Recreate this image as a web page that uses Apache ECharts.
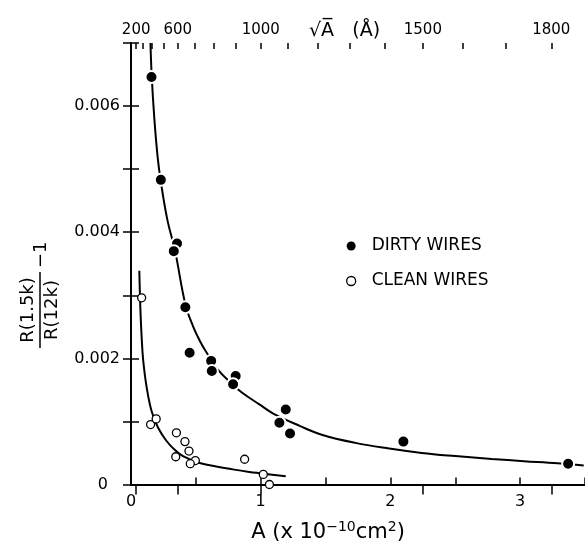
<!DOCTYPE html>
<html><head><meta charset="utf-8">
<script src="https://cdn.jsdelivr.net/npm/echarts@6/dist/echarts.min.js"></script>
<style>html,body{margin:0;padding:0;background:#fff}#c{width:585px;height:548px}</style>
</head><body><div id="c"></div>
<script>
// Measured data (A in 1e-10 cm^2, R ratio - 1)
const dirtyA = [0.158, 0.230, 0.355, 0.330, 0.419, 0.452, 0.618, 0.623, 0.807, 0.787, 1.193, 1.144, 1.226, 2.10, 3.37];
const dirtyR = [0.00646, 0.00483, 0.00382, 0.00370, 0.00281, 0.00209, 0.00196, 0.00180, 0.00172, 0.00159, 0.00119, 0.00098, 0.00081, 0.00068, 0.00033];
const cleanA = [0.082, 0.151, 0.194, 0.350, 0.416, 0.447, 0.345, 0.496, 0.457, 0.876, 1.02, 1.067];
const cleanR = [0.00296, 0.00095, 0.00104, 0.00082, 0.00068, 0.00053, 0.00044, 0.00038, 0.00033, 0.00040, 0.00016, 0.0000];
// Hand-drawn guide curves
const dirtyCurveA = [0.150, 0.160, 0.180, 0.205, 0.230, 0.280, 0.340, 0.420, 0.480, 0.530, 0.580, 0.670, 0.770, 0.860, 0.990, 1.100, 1.300, 1.470, 1.730, 1.990, 2.240, 2.500, 2.780, 3.030, 3.290, 3.490];
const dirtyCurveR = [0.00700, 0.00646, 0.00580, 0.00520, 0.00480, 0.00420, 0.00370, 0.00285, 0.00250, 0.00228, 0.00210, 0.00182, 0.00161, 0.00145, 0.00127, 0.00112, 0.00093, 0.00079, 0.00066, 0.00057, 0.00050, 0.00045, 0.000405, 0.00037, 0.000335, 0.00030];
const cleanCurveA = [0.064, 0.072, 0.082, 0.094, 0.120, 0.159, 0.209, 0.274, 0.337, 0.401, 0.529, 0.657, 0.784, 0.912, 0.989, 1.193];
const cleanCurveR = [0.00339, 0.00280, 0.00234, 0.00197, 0.00155, 0.00116, 0.00090, 0.00069, 0.00055, 0.00045, 0.00034, 0.000285, 0.00024, 0.00020, 0.00018, 0.00013];
// Axis ticks
const xLabelValues = [0, 1, 2, 3];
const yLabelValues = [0, 0.002, 0.004, 0.006];
const sqrtMinorTicks = [200, 300, 400, 500, 600, 700, 800, 900, 1000, 1100, 1200, 1300, 1400, 1500, 1600, 1700, 1800];
const sqrtLabelTicks = [200, 600, 1000, 1500, 1800];

const FONT = 'DejaVu Sans';
const zip = (a, b) => a.map((v, i) => [v, b[i]]);
const sqrtToA = s => (s / 1000) * (s / 1000);

const chart = echarts.init(document.getElementById('c'), null, {renderer: 'canvas'});
const black = '#000';
chart.setOption({
  animation: false,
  backgroundColor: '#fff',
  grid: {left: 131, top: 43, right: -3, bottom: 59, containLabel: false},
  title: {
    text: '\u221AA\u0305   (\u00C5)',
    left: 304, top: 17,
    textStyle: {fontFamily: FONT, fontSize: 19, fontWeight: 'normal', color: black}
  },
  legend: {
    orient: 'vertical', left: 341, top: 231, itemGap: 15,
    itemWidth: 9, itemHeight: 9,
    textStyle: {fontFamily: FONT, fontSize: 17, color: black, lineHeight: 20, padding: [0, 0, 0, 11]},
    data: [
      {name: 'DIRTY WIRES', icon: 'circle', itemStyle: {color: black, borderWidth: 0}},
      {name: 'CLEAN WIRES', icon: 'circle', itemStyle: {color: '#fff', borderColor: black, borderWidth: 1.3}}
    ]
  },
  xAxis: [
    {
      type: 'value', position: 'bottom', min: 0, max: 3.5, interval: 0.5,
      axisLine: {show: true, lineStyle: {color: black, width: 2}},
      axisTick: {show: true, inside: true, length: 7, lineStyle: {color: black, width: 1.5}},
      axisLabel: {customValues: xLabelValues, fontFamily: FONT, fontSize: 16, color: black, margin: 9},
      splitLine: {show: false},
      name: 'A (x 10{s|\u221210}cm{s|2})',
      nameLocation: 'middle', nameGap: 36,
      nameTextStyle: {fontFamily: FONT, fontSize: 21, color: black, padding: [0, 60, 0, 0],
        rich: {s: {fontFamily: FONT, fontSize: 14, color: black, verticalAlign: 'top', padding: [0, 0, 10, 0]}}}
    },
    {
      type: 'value', position: 'top', min: 0, max: 3.5,
      axisLine: {show: true, lineStyle: {color: black, width: 2}},
      axisTick: {show: true, inside: true, length: 10, customValues: sqrtLabelTicks.map(sqrtToA), lineStyle: {color: black, width: 1.5}},
      axisLabel: {customValues: sqrtLabelTicks.map(sqrtToA), fontFamily: FONT, fontSize: 15, color: black, margin: 5,
        formatter: v => String(Math.round(Math.sqrt(v) * 10) * 100)},
      splitLine: {show: false}
    },
    {
      type: 'value', position: 'top', min: 0, max: 3.5,
      axisLine: {show: false},
      axisTick: {show: true, inside: true, length: 6, customValues: sqrtMinorTicks.map(sqrtToA), lineStyle: {color: black, width: 1.5}},
      axisLabel: {show: false},
      splitLine: {show: false}
    }
  ],
  yAxis: [
    {
      type: 'value', position: 'left', min: 0, max: 0.007, interval: 0.001,
      axisLine: {show: true, lineStyle: {color: black, width: 2}},
      axisTick: {show: true, inside: true, length: 8, lineStyle: {color: black, width: 1.5}},
      axisLabel: {customValues: yLabelValues, fontFamily: FONT, fontSize: 16, color: black, margin: 11,
        formatter: v => v === 0 ? '{z|0}' : v.toFixed(3),
        rich: {z: {fontFamily: FONT, fontSize: 16, color: black, padding: [0, 12, 0, 0]}}},
      splitLine: {show: false}
    },
    {
      type: 'value', position: 'right', min: 0, max: 0.007, interval: 0.001,
      axisLine: {show: true, lineStyle: {color: black, width: 2}},
      axisTick: {show: true, inside: true, length: 8, lineStyle: {color: black, width: 1.5}},
      axisLabel: {show: false},
      splitLine: {show: false}
    }
  ],
  graphic: [{
    type: 'group', x: 40, y: 310, rotation: Math.PI / 2,
    children: [
      {type: 'text', x: 0, y: -3, style: {text: 'R(1.5k)', fontFamily: FONT, fontSize: 18, fill: black, align: 'center', verticalAlign: 'bottom'}},
      {type: 'line', shape: {x1: -38, y1: 0, x2: 38, y2: 0}, style: {stroke: black, lineWidth: 1.5}},
      {type: 'text', x: 0, y: 3, style: {text: 'R(12k)', fontFamily: FONT, fontSize: 18, fill: black, align: 'center', verticalAlign: 'top'}},
      {type: 'text', x: 42, y: 1, style: {text: '\u22121', fontFamily: FONT, fontSize: 18, fill: black, align: 'left', verticalAlign: 'middle'}}
    ]
  }],
  series: [
    {type: 'line', name: 'dirty fit', data: zip(dirtyCurveA, dirtyCurveR), smooth: 0.4,
      symbol: 'none', lineStyle: {color: black, width: 2}, z: 2},
    {type: 'line', name: 'clean fit', data: zip(cleanCurveA, cleanCurveR), smooth: 0.4,
      symbol: 'none', lineStyle: {color: black, width: 2}, z: 2},
    {type: 'scatter', name: 'DIRTY WIRES', data: zip(dirtyA, dirtyR), symbol: 'circle', symbolSize: 12, clip: false,
      itemStyle: {color: black, borderColor: '#fff', borderWidth: 2, opacity: 1}, z: 3},
    {type: 'scatter', name: 'CLEAN WIRES', data: zip(cleanA, cleanR), symbol: 'circle', symbolSize: 8, clip: false,
      itemStyle: {color: '#fff', borderColor: black, borderWidth: 1.3, opacity: 1}, z: 4}
  ]
});
</script>
</body></html>
